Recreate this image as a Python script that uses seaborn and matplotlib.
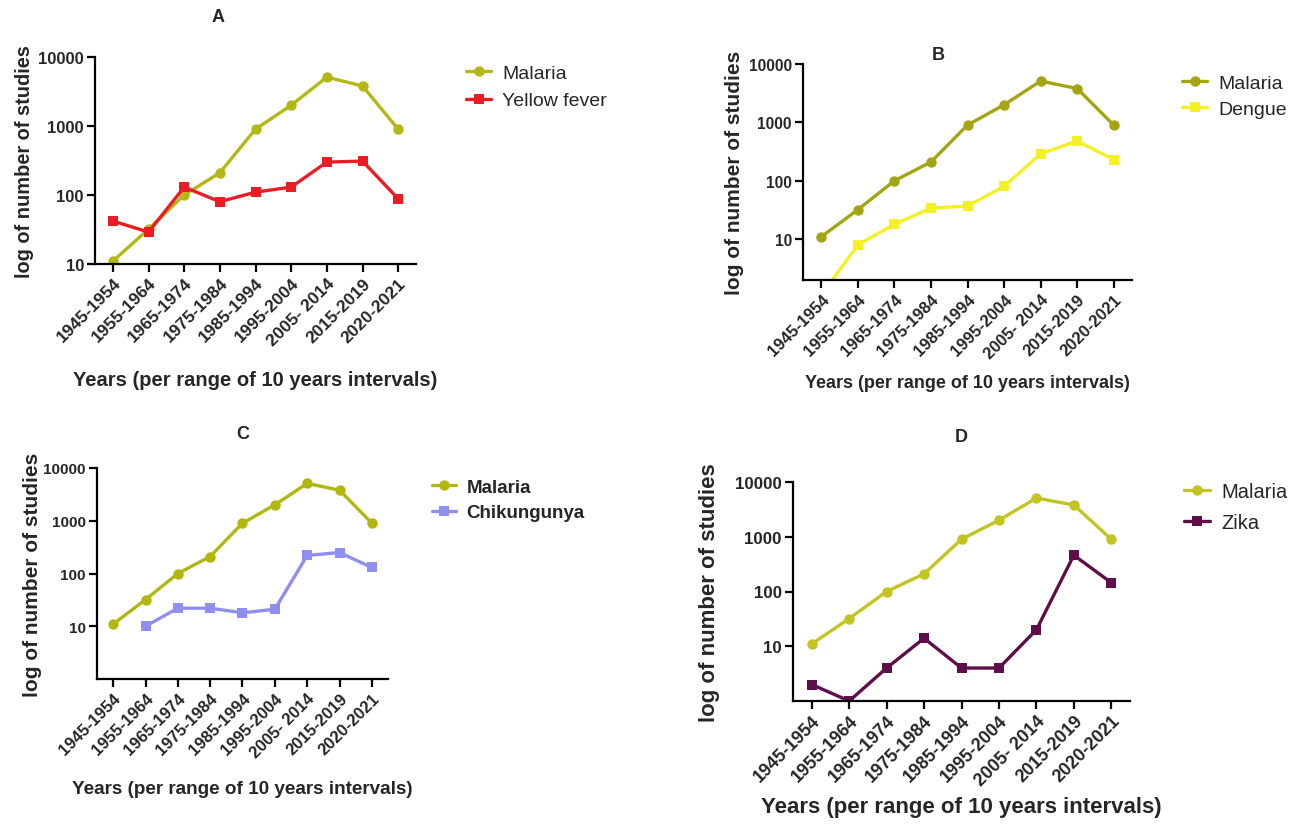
import numpy as np
import pandas as pd
import matplotlib
matplotlib.use("Agg")
import matplotlib.pyplot as plt
import matplotlib.transforms as mtransforms
import seaborn as sns

sns.set_style("white")
plt.rcParams['font.family'] = ['Liberation Sans', 'DejaVu Sans']

# ---------------- data ----------------
periods = ["1945-1954", "1955-1964", "1965-1974", "1975-1984", "1985-1994",
           "1995-2004", "2005- 2014", "2015-2019", "2020-2021"]
malaria = [11, 32, 100, 210, 900, 2000, 5100, 3800, 900]
yellow_fever = [42, 29, 130, 80, 110, 130, 300, 310, 88]
dengue = [1.1, 8, 18, 34, 37, 80, 290, 480, 230]
chikungunya = [np.nan, 10, 22, 22, 18, 21, 220, 250, 130]
zika = [2, 1, 4, 14, 4, 4, 20, 460, 145]
y_ticks = [10, 100, 1000, 10000]
y_tick_labels = ["10", "100", "1000", "10000"]

W, H = 1298, 828
fig = plt.figure(figsize=(W / 100, H / 100), dpi=100)


def px_rect(x0, x1, y0, y1):
    return [x0 / W, 1 - y1 / H, (x1 - x0) / W, (y1 - y0) / H]


panels = [
    dict(title="A", title_xy=(218, 18), rect=(95, 416, 58, 265), ylim=(10, 10000),
         other=yellow_fever, other_name="Yellow fever", other_color="#ec1c24",
         mal_color="#b5b814", ytick_fs=12, xtick_fs=12.5, ylab_fs=14.4, xlab_fs=14.5,
         ylab_x=24, xlab_y=380, leg_xy=(466, 88), leg_fs=14, leg_bold=False, leg_sp=0.5),
    dict(title="B", title_xy=(938, 55), rect=(803, 1132, 65, 281), ylim=(2, 10000),
         other=dengue, other_name="Dengue", other_color="#f5f026",
         mal_color="#a3a512", ytick_fs=11.2, xtick_fs=12, ylab_fs=15, xlab_fs=13,
         ylab_x=735, xlab_y=384, leg_xy=(1182, 97), leg_fs=14, leg_bold=False, leg_sp=0.45),
    dict(title="C", title_xy=(243, 435), rect=(97, 388, 469, 680), ylim=(1, 10000),
         other=chikungunya, other_name="Chikungunya", other_color="#8f8ff2",
         mal_color="#b1b70f", ytick_fs=11, xtick_fs=12, ylab_fs=15, xlab_fs=13.6,
         ylab_x=33, xlab_y=790, leg_xy=(432, 501), leg_fs=13.5, leg_bold=True, leg_sp=0.45),
    dict(title="D", title_xy=(961, 438), rect=(793, 1130, 483, 702), ylim=(1, 10000),
         other=zika, other_name="Zika", other_color="#5e0f4a",
         mal_color="#c2c521", ytick_fs=12.2, xtick_fs=13, ylab_fs=16, xlab_fs=16,
         ylab_x=709, xlab_y=808, leg_xy=(1184, 508), leg_fs=14.5, leg_bold=False, leg_sp=0.6),
]

for p in panels:
    ax = fig.add_axes(px_rect(*p["rect"]))
    ax.set_yscale("log")
    sns.lineplot(x=periods, y=malaria, ax=ax, sort=False, color=p["mal_color"],
                 marker="o", markersize=7.5, markeredgewidth=0, linewidth=2.4,
                 label="Malaria")
    sns.lineplot(x=periods, y=p["other"], ax=ax, sort=False, color=p["other_color"],
                 marker="s", markersize=7.5, markeredgewidth=0, linewidth=2.4,
                 label=p["other_name"])
    ax.set_xlim(-0.5, len(periods) - 0.5)
    ax.set_ylim(*p["ylim"])
    ax.set_yticks(y_ticks)
    ax.set_yticklabels(y_tick_labels)
    ax.yaxis.set_minor_locator(matplotlib.ticker.NullLocator())
    ax.set_xticks(range(len(periods)))
    ax.set_xticklabels(periods, rotation=45, ha="right", rotation_mode="anchor")
    for lab in ax.get_yticklabels():
        lab.set_fontsize(p["ytick_fs"]); lab.set_fontweight("bold")
    offset = mtransforms.ScaledTranslation(6 / 100, -5 / 100, fig.dpi_scale_trans)
    for lab in ax.get_xticklabels():
        lab.set_fontsize(p["xtick_fs"]); lab.set_fontweight("bold")
        lab.set_transform(lab.get_transform() + offset)
    for s in ["top", "right"]:
        ax.spines[s].set_visible(False)
    for s in ["left", "bottom"]:
        ax.spines[s].set_linewidth(1.6)
        ax.spines[s].set_color("black")
    ax.tick_params(axis="both", which="major", direction="out", length=6, width=1.6,
                   color="black", left=True, bottom=True, pad=2)
    ax.grid(False)

    ax.set_ylabel("log of number of studies", fontsize=p["ylab_fs"], fontweight="bold")
    ax.yaxis.set_label_coords(p["ylab_x"] / W, 1 - ((p["rect"][2] + p["rect"][3]) / 2) / H,
                              transform=fig.transFigure)
    ax.yaxis.label.set_va("center")
    ax.set_xlabel("Years (per range of 10 years intervals)", fontsize=p["xlab_fs"],
                  fontweight="bold")
    ax.xaxis.set_label_coords(((p["rect"][0] + p["rect"][1]) / 2) / W, 1 - p["xlab_y"] / H,
                              transform=fig.transFigure)
    ax.xaxis.label.set_va("center")

    fig.text(p["title_xy"][0] / W, 1 - p["title_xy"][1] / H, p["title"], fontsize=13,
             fontweight="bold", ha="center", va="center")

    handles, labels = ax.get_legend_handles_labels()
    leg = ax.legend(handles, labels, loc="center left",
                    bbox_to_anchor=(p["leg_xy"][0] / W, 1 - p["leg_xy"][1] / H),
                    bbox_transform=fig.transFigure, frameon=False, borderpad=0,
                    borderaxespad=0, handlelength=1.3, handletextpad=0.55,
                    labelspacing=p["leg_sp"],
                    prop=dict(size=p["leg_fs"], weight="bold" if p["leg_bold"] else "normal"))

fig.savefig("out.png", dpi=100, facecolor="white")
